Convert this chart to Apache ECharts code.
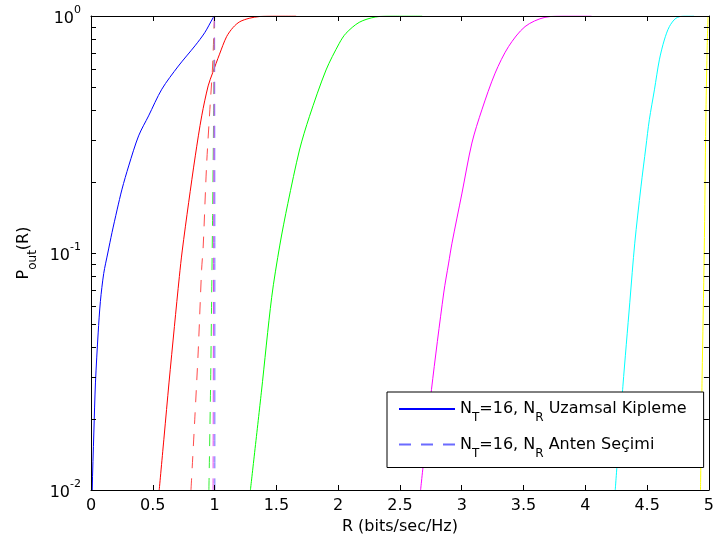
<!DOCTYPE html>
<html>
<head>
<meta charset="utf-8">
<script src="https://cdn.jsdelivr.net/npm/echarts@6/dist/echarts.min.js"></script>
<style>
  html, body { margin: 0; padding: 0; background: #fff; }
  #chart { width: 717px; height: 546px; }
</style>
</head>
<body>
<div id="chart"></div>
<script>
// Outage probability P_out(R) versus rate R (bits/sec/Hz)
const legendNames = ['N_T=16, N_R Uzamsal Kipleme', 'N_T=16, N_R Anten Seçimi'];

// Spatial modulation (solid curves)
const blueSolidR = [0.005, 0.01, 0.023, 0.036, 0.058, 0.076, 0.103, 0.136, 0.170, 0.211, 0.251, 0.305, 0.385, 0.466, 0.573, 0.707, 0.841, 0.920, 0.989, 1.0];
const blueSolidP = [0.005, 0.01, 0.0174, 0.0283, 0.046, 0.0625, 0.082, 0.100, 0.122, 0.152, 0.186, 0.233, 0.312, 0.379, 0.491, 0.615, 0.748, 0.850, 0.985, 1.0];

const redSolidR = [0.552, 0.592, 0.631, 0.675, 0.715, 0.738, 0.790, 0.844, 0.896, 0.948, 0.985, 1.040, 1.097, 1.150, 1.204, 1.280, 1.365, 1.500, 1.660];
const redSolidP = [0.01, 0.0169, 0.0283, 0.049, 0.0796, 0.102, 0.163, 0.257, 0.379, 0.507, 0.577, 0.690, 0.818, 0.895, 0.946, 0.978, 0.995, 1.0, 1.0];

const greenSolidR = [1.290, 1.378, 1.462, 1.528, 1.593, 1.687, 1.767, 1.902, 2.009, 2.063, 2.170, 2.300, 2.450, 2.680];
const greenSolidP = [0.01, 0.0257, 0.0650, 0.108, 0.162, 0.272, 0.376, 0.592, 0.767, 0.845, 0.940, 0.990, 1.0, 1.0];

const magentaSolidR = [2.667, 2.755, 2.854, 2.894, 2.921, 3.002, 3.082, 3.163, 3.270, 3.378, 3.512, 3.673, 3.850, 4.050];
const magentaSolidP = [0.01, 0.0265, 0.0678, 0.0907, 0.110, 0.179, 0.291, 0.402, 0.574, 0.742, 0.902, 0.987, 1.0, 1.0];

const cyanSolidR = [4.242, 4.304, 4.360, 4.400, 4.450, 4.490, 4.518, 4.559, 4.599, 4.639, 4.680, 4.733, 4.800, 4.880];
const cyanSolidP = [0.01, 0.0274, 0.062, 0.110, 0.190, 0.280, 0.365, 0.488, 0.653, 0.792, 0.902, 0.978, 1.0, 1.0];

const yellowSolidR = [4.932, 4.945, 4.962, 4.975, 4.985, 4.993];
const yellowSolidP = [0.01, 0.03, 0.10, 0.36, 0.70, 1.0];

// Antenna selection (dashed curves)
const blueDashR = [1.002, 1.002, 1.0];
const blueDashP = [0.01, 0.10, 1.0];

const redDashR = [0.809, 0.841, 0.868, 0.895, 0.908, 0.935, 0.962, 0.984, 0.994, 1.0];
const redDashP = [0.01, 0.0205, 0.039, 0.085, 0.107, 0.233, 0.404, 0.615, 0.850, 1.0];

const greenDashR = [0.954, 0.968, 0.976, 0.984, 0.992, 0.997, 1.0];
const greenDashP = [0.01, 0.0283, 0.0636, 0.144, 0.379, 0.800, 1.0];

const magentaDashR = [0.988, 0.992, 0.998];
const magentaDashP = [0.01, 0.10, 1.0];

// Minor tick positions on the log axis
const minorTickValues = [0.02, 0.03, 0.04, 0.05, 0.06, 0.07, 0.08, 0.09, 0.2, 0.3, 0.4, 0.5, 0.6, 0.7, 0.8, 0.9];

const fontFamily = 'DejaVu Sans';

// "N_T" / "P_{out}" style names turned into rich text with subscripts
function richText(str) {
  const re = /_\{([^}]*)\}|_(\w)/g;
  let out = '', last = 0, m;
  while ((m = re.exec(str))) {
    if (m.index > last) out += '{n|' + str.slice(last, m.index) + '}';
    out += '{s|' + (m[1] || m[2]) + '}';
    last = re.lastIndex;
  }
  if (last < str.length) out += '{n|' + str.slice(last) + '}';
  return out;
}
const subRich = {
  n: { fontFamily, fontSize: 16, lineHeight: 16, color: '#000', verticalAlign: 'top' },
  s: { fontFamily, fontSize: 12, lineHeight: 12, color: '#000', verticalAlign: 'top', padding: [11, 0, 0, 0] }
};

function pairs(r, p) { return r.map((x, i) => [x, p[i]]); }

const series = [];
function addCurve(name, color, r, p, dashed) {
  series.push({
    name, type: 'line', data: pairs(r, p),
    symbol: 'none', showSymbol: false, animation: false, z: 2,
    smooth: 0.3,
    lineStyle: { color, width: 1, type: dashed ? [12, 10] : 'solid' },
    itemStyle: { color }
  });
}

addCurve(legendNames[0], '#0000ff', blueSolidR, blueSolidP, false);
addCurve('N_R 2 (uzamsal)', '#ff0000', redSolidR, redSolidP, false);
addCurve('N_R 3 (uzamsal)', '#00ff00', greenSolidR, greenSolidP, false);
addCurve('N_R 4 (uzamsal)', '#ff00ff', magentaSolidR, magentaSolidP, false);
addCurve('N_R 5 (uzamsal)', '#00ffff', cyanSolidR, cyanSolidP, false);
addCurve('N_R 6 (uzamsal)', '#ffff00', yellowSolidR, yellowSolidP, false);
addCurve(legendNames[1], '#6b6bff', blueDashR, blueDashP, true);
addCurve('N_R 2 (seçim)', '#ff4a4a', redDashR, redDashP, true);
addCurve('N_R 3 (seçim)', '#33ee33', greenDashR, greenDashP, true);
addCurve('N_R 4 (seçim)', '#dd44ee', magentaDashR, magentaDashP, true);

// Minor ticks on the left and right box edges
series.push({
  type: 'custom', name: 'minorTicks', silent: true, animation: false, z: 5, clip: false,
  data: minorTickValues.map(v => [0, v]),
  encode: { x: 0, y: 1 },
  renderItem: (params, api) => {
    const v = api.value(1);
    const a = api.coord([0, v]);
    const b = api.coord([5, v]);
    const y = Math.round(a[1]) + 0.5;
    return {
      type: 'group',
      children: [
        { type: 'line', shape: { x1: a[0], y1: y, x2: a[0] + 5, y2: y }, style: { stroke: '#000', lineWidth: 1 } },
        { type: 'line', shape: { x1: b[0] - 5, y1: y, x2: b[0], y2: y }, style: { stroke: '#000', lineWidth: 1 } }
      ]
    };
  }
});

const axisLine = { show: true, onZero: false, lineStyle: { color: '#000', width: 1 } };
const axisTick = { show: true, inside: true, length: 5, lineStyle: { color: '#000', width: 1 } };

const option = {
  animation: false,
  backgroundColor: '#fff',
  grid: { left: 91, right: 6, top: 16, bottom: 56, containLabel: false },
  xAxis: [
    {
      type: 'value', min: 0, max: 5, interval: 0.5, position: 'bottom', z: 3,
      name: 'R (bits/sec/Hz)', nameLocation: 'middle', nameGap: 29,
      nameTextStyle: { fontFamily, fontSize: 16, color: '#000', verticalAlign: 'top' },
      axisLine, axisTick,
      axisLabel: { fontFamily, fontSize: 16, color: '#000', margin: 8 },
      splitLine: { show: false }
    },
    {
      type: 'value', min: 0, max: 5, interval: 0.5, position: 'top', z: 3,
      axisLine, axisTick, axisLabel: { show: false }, splitLine: { show: false }
    }
  ],
  yAxis: [
    {
      type: 'log', logBase: 10, min: 0.01, max: 1, position: 'left', z: 3,
      name: richText('P_{out}(R)'), nameLocation: 'middle', nameGap: 55,
      nameTextStyle: { fontFamily, fontSize: 16, color: '#000', rich: subRich },
      axisLine, axisTick,
      axisLabel: {
        margin: 10,
        formatter: v => '{b|10}{e|' + Math.round(Math.log10(v)) + '}',
        rich: {
          b: { fontFamily, fontSize: 16, lineHeight: 22, color: '#000', verticalAlign: 'bottom' },
          e: { fontFamily, fontSize: 11, lineHeight: 11, color: '#000', verticalAlign: 'top' }
        }
      },
      splitLine: { show: false }
    },
    {
      type: 'log', logBase: 10, min: 0.01, max: 1, position: 'right', z: 3,
      axisLine, axisTick, axisLabel: { show: false }, splitLine: { show: false }
    }
  ],
  legend: {
    data: legendNames,
    orient: 'vertical', left: 387, top: 392,
    padding: [9, 17, 8, 11],
    itemWidth: 56, itemHeight: 14, itemGap: 12.5,
    backgroundColor: '#fff', borderColor: '#000', borderWidth: 1, borderRadius: 0,
    selectedMode: false,
    itemStyle: { opacity: 0, borderWidth: 0 },
    formatter: name => richText(name),
    textStyle: { fontFamily, fontSize: 16, color: '#000', rich: subRich }
  },
  series
};

const chart = echarts.init(document.getElementById('chart'), null, { renderer: 'canvas' });
chart.setOption(option);
</script>
</body>
</html>
